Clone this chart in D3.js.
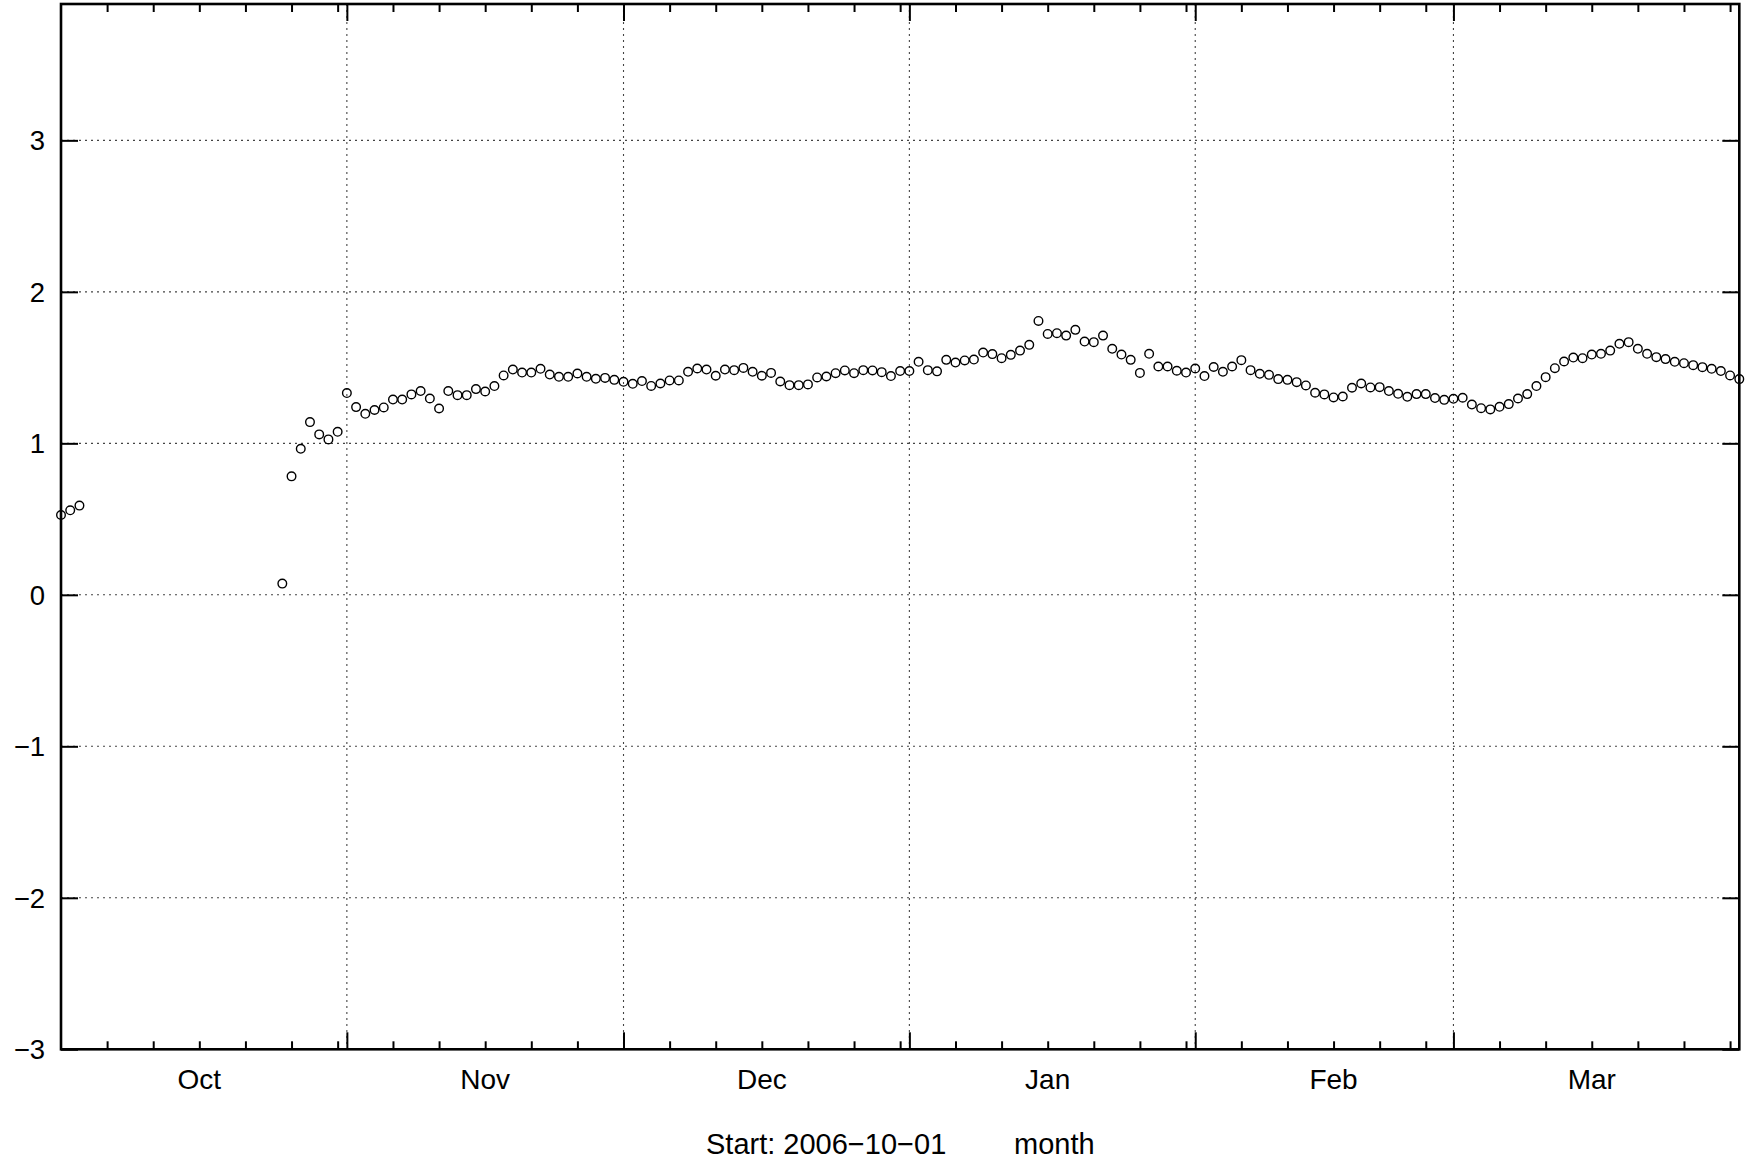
<!DOCTYPE html>
<html><head><meta charset="utf-8">
<script src="https://cdn.jsdelivr.net/npm/d3@7"></script>
<style>body{margin:0;background:#fff} svg{display:block}</style>
</head><body>
<svg id="chart" width="1755" height="1163"></svg>
<script>
// ---- data ----
const dates = [
"2006-10-01","2006-10-02","2006-10-03","2006-10-25","2006-10-26","2006-10-27","2006-10-28","2006-10-29","2006-10-30","2006-10-31",
"2006-11-01","2006-11-02","2006-11-03","2006-11-04","2006-11-05","2006-11-06","2006-11-07","2006-11-08","2006-11-09","2006-11-10",
"2006-11-11","2006-11-12","2006-11-13","2006-11-14","2006-11-15","2006-11-16","2006-11-17","2006-11-18","2006-11-19","2006-11-20",
"2006-11-21","2006-11-22","2006-11-23","2006-11-24","2006-11-25","2006-11-26","2006-11-27","2006-11-28","2006-11-29","2006-11-30",
"2006-12-01","2006-12-02","2006-12-03","2006-12-04","2006-12-05","2006-12-06","2006-12-07","2006-12-08","2006-12-09","2006-12-10",
"2006-12-11","2006-12-12","2006-12-13","2006-12-14","2006-12-15","2006-12-16","2006-12-17","2006-12-18","2006-12-19","2006-12-20",
"2006-12-21","2006-12-22","2006-12-23","2006-12-24","2006-12-25","2006-12-26","2006-12-27","2006-12-28","2006-12-29","2006-12-30","2006-12-31",
"2007-01-01","2007-01-02","2007-01-03","2007-01-04","2007-01-05","2007-01-06","2007-01-07","2007-01-08","2007-01-09","2007-01-10",
"2007-01-11","2007-01-12","2007-01-13","2007-01-14","2007-01-15","2007-01-16","2007-01-17","2007-01-18","2007-01-19","2007-01-20",
"2007-01-21","2007-01-22","2007-01-23","2007-01-24","2007-01-25","2007-01-26","2007-01-27","2007-01-28","2007-01-29","2007-01-30","2007-01-31",
"2007-02-01","2007-02-02","2007-02-03","2007-02-04","2007-02-05","2007-02-06","2007-02-07","2007-02-08","2007-02-09","2007-02-10",
"2007-02-11","2007-02-12","2007-02-13","2007-02-14","2007-02-15","2007-02-16","2007-02-17","2007-02-18","2007-02-19","2007-02-20",
"2007-02-21","2007-02-22","2007-02-23","2007-02-24","2007-02-25","2007-02-26","2007-02-27","2007-02-28",
"2007-03-01","2007-03-02","2007-03-03","2007-03-04","2007-03-05","2007-03-06","2007-03-07","2007-03-08","2007-03-09","2007-03-10",
"2007-03-11","2007-03-12","2007-03-13","2007-03-14","2007-03-15","2007-03-16","2007-03-17","2007-03-18","2007-03-19","2007-03-20",
"2007-03-21","2007-03-22","2007-03-23","2007-03-24","2007-03-25","2007-03-26","2007-03-27","2007-03-28","2007-03-29","2007-03-30","2007-03-31",
"2007-04-01"
];
const values = [
// Oct
0.527,0.558,0.589,0.074,0.782,0.964,1.140,1.059,1.026,1.076,
// Nov
1.332,1.239,1.195,1.220,1.237,1.289,1.289,1.323,1.345,1.296,
1.230,1.345,1.318,1.318,1.358,1.342,1.378,1.448,1.487,1.467,
1.467,1.492,1.454,1.439,1.439,1.461,1.439,1.426,1.432,1.419,
// Dec
1.406,1.393,1.411,1.379,1.395,1.415,1.415,1.472,1.494,1.487,
1.446,1.487,1.483,1.498,1.472,1.446,1.465,1.408,1.384,1.384,
1.389,1.435,1.441,1.463,1.481,1.463,1.483,1.481,1.470,1.444,1.477,
// Jan
1.477,1.538,1.483,1.475,1.551,1.533,1.547,1.553,1.599,1.589,
1.562,1.584,1.612,1.650,1.808,1.722,1.727,1.711,1.749,1.672,
1.668,1.711,1.624,1.586,1.551,1.465,1.591,1.507,1.507,1.479,1.467,
// Feb
1.494,1.444,1.504,1.472,1.507,1.549,1.483,1.459,1.452,1.424,
1.419,1.404,1.382,1.334,1.323,1.303,1.309,1.367,1.395,1.369,
1.371,1.345,1.327,1.307,1.325,1.325,1.299,1.287,
// Mar
1.294,1.301,1.256,1.232,1.224,1.241,1.259,1.296,1.325,1.378,
1.437,1.496,1.540,1.566,1.562,1.586,1.591,1.612,1.657,1.668,
1.624,1.591,1.569,1.556,1.538,1.529,1.516,1.503,1.492,1.477,1.448,
// Apr
1.424
];
const xDomain = ["2006-10-01","2007-04-01"];
const yDomain = [-3, 3.9];
const yTicks = [-3,-2,-1,0,1,2,3];
const monthLabels = ["Oct","Nov","Dec","Jan","Feb","Mar"];
const monthLabelDates = ["2006-10-16","2006-11-16","2006-12-16","2007-01-16","2007-02-16","2007-03-16"];
const captionStart = "Start: 2006\u221210\u221201";
const captionUnit = "month";

// ---- layout ----
const W = 1755, H = 1163;
const m = {left: 61, right: 15.7, top: 4, bottom: 113.7};
const FONT = "'Liberation Sans', Arial, Helvetica, sans-serif";
const parse = d3.utcParse("%Y-%m-%d");
const svg = d3.select("#chart");
svg.append("rect").attr("width", W).attr("height", H).attr("fill", "#fff");

const x = d3.scaleUtc().domain(xDomain.map(parse)).range([m.left, W - m.right]);
const y = d3.scaleLinear().domain(yDomain).range([H - m.bottom, m.top]);
const x0 = m.left, x1 = W - m.right, y0 = H - m.bottom, y1 = m.top;

const minorDays = x.ticks(d3.utcDay.every(5)).filter(d => d.getUTCDate() !== 1);
const majorMonths = x.ticks(d3.utcMonth.every(1)).filter(d => +d > +x.domain()[0] && +d < +x.domain()[1]);

// grid
const grid = svg.append("g").attr("stroke", "#444").attr("stroke-width", 1.1).attr("stroke-dasharray", "2,4");
grid.selectAll("line.v").data(majorMonths).join("line")
  .attr("x1", d => x(d)).attr("x2", d => x(d)).attr("y1", y1).attr("y2", y0);
grid.selectAll("line.h").data(yTicks.filter(v => v > yDomain[0])).join("line")
  .attr("x1", x0).attr("x2", x1).attr("y1", d => y(d)).attr("y2", d => y(d));

// axes ticks (inward)
function styleAxis(g) {
  g.select(".domain").remove();
  g.selectAll(".tick line").attr("stroke", "#000").attr("stroke-width", 2);
  g.selectAll(".tick text").remove();
}
svg.append("g").attr("transform", `translate(0,${y0})`)
  .call(d3.axisBottom(x).tickValues(minorDays).tickSize(-8)).call(styleAxis);
svg.append("g").attr("transform", `translate(0,${y0})`)
  .call(d3.axisBottom(x).tickValues(majorMonths).tickSize(-17)).call(styleAxis);
svg.append("g").attr("transform", `translate(0,${y1})`)
  .call(d3.axisTop(x).tickValues(minorDays).tickSize(-8)).call(styleAxis);
svg.append("g").attr("transform", `translate(0,${y1})`)
  .call(d3.axisTop(x).tickValues(majorMonths).tickSize(-17)).call(styleAxis);
svg.append("g").attr("transform", `translate(${x1},0)`)
  .call(d3.axisRight(y).tickValues(yTicks).tickSize(-17)).call(styleAxis);

const yAxis = svg.append("g").attr("transform", `translate(${x0},0)`)
  .call(d3.axisLeft(y).tickValues(yTicks).tickSize(-17).tickPadding(16).tickFormat(d3.format("d")));
yAxis.select(".domain").remove();
yAxis.selectAll(".tick line").attr("stroke", "#000").attr("stroke-width", 2);
yAxis.selectAll(".tick text").attr("font-family", FONT).attr("font-size", 27.5).attr("fill", "#000").attr("dy", "0.35em");

// frame
svg.append("rect").attr("x", x0).attr("y", y1).attr("width", x1 - x0).attr("height", y0 - y1)
  .attr("fill", "none").attr("stroke", "#000").attr("stroke-width", 2.6);

// month labels
svg.append("g").selectAll("text").data(monthLabels).join("text")
  .attr("x", (d, i) => x(parse(monthLabelDates[i])))
  .attr("y", 1089)
  .attr("text-anchor", "middle")
  .attr("font-family", FONT).attr("font-size", 28).attr("fill", "#000")
  .text(d => d);

// caption
svg.append("text").attr("x", 706).attr("y", 1154).attr("font-family", FONT).attr("font-size", 29).text(captionStart);
svg.append("text").attr("x", 1014).attr("y", 1154).attr("font-family", FONT).attr("font-size", 29).text(captionUnit);

// points
const pts = dates.map((d, i) => ({date: parse(d), value: values[i]}));
svg.append("g").selectAll("circle").data(pts).join("circle")
  .attr("cx", d => x(d.date)).attr("cy", d => y(d.value)).attr("r", 4.3)
  .attr("fill", "none").attr("stroke", "#000").attr("stroke-width", 1.4);
</script>
</body></html>
